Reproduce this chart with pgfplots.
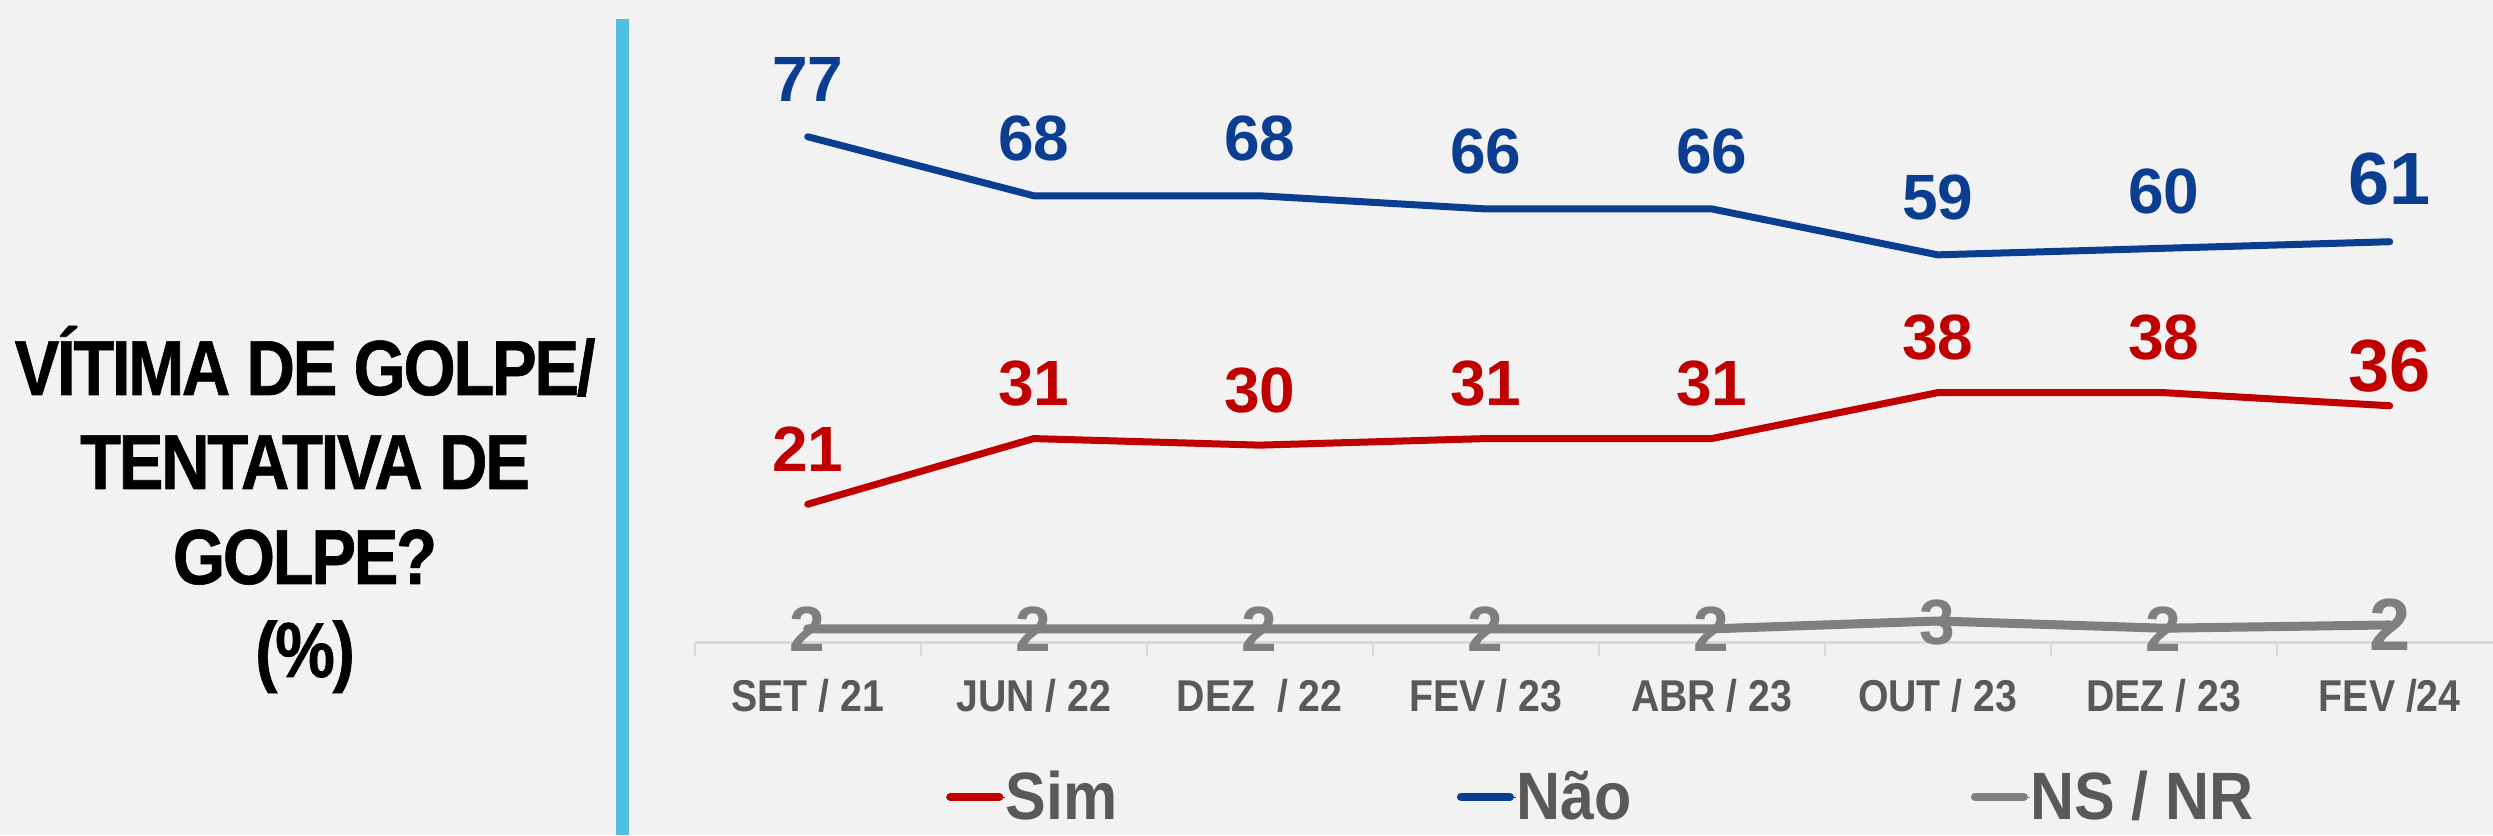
\documentclass[border=0pt]{standalone}
\usepackage{fontspec}
\usepackage{pgfplots}
\usepackage{pgfplotstable}
\pgfplotsset{compat=1.18}
\setmainfont{Liberation Sans}
\newfontfamily\nb{Liberation Sans}[FakeStretch=0.88]
\newfontfamily\lb{Liberation Sans}[FakeStretch=0.91]
\newfontfamily\tb{Liberation Sans}[FakeStretch=0.86, LetterSpace=-3, FakeBold=0.8]
\definecolor{bg}{HTML}{F2F2F2}
\definecolor{naoblue}{HTML}{0B3D91}
\definecolor{simred}{HTML}{C00000}
\definecolor{nsgray}{HTML}{7F7F7F}
\definecolor{tickgray}{HTML}{595959}
\definecolor{axisgray}{HTML}{D9D9D9}
\definecolor{cyanbar}{HTML}{4FBEE0}
\pgfplotstableread{
x sim nao ns nsl
0 21 77 2.0 2
1 31 68 2.0 2
2 30 68 2.0 2
3 31 66 2.0 2
4 31 66 2.0 2
5 38 59 3.2 3
6 38 60 2.1 2
7 36 61 2.6 2
}\data
\begin{document}
\begin{tikzpicture}
\fill[bg] (0,0) rectangle (1246.5pt,417.5pt);
\fill[cyanbar] (307.75pt,0pt) rectangle (314.3pt,408pt);
\begin{scope}[every node/.style={anchor=base, inner sep=0pt, font=\tb\bfseries\fontsize{39}{47}\selectfont, text=black}]
\node at (152.5pt,220pt) {VÍTIMA DE GOLPE/};
\node at (152.5pt,173pt) {TENTATIVA DE};
\node at (152.5pt,125.5pt) {GOLPE?};
\node at (152.5pt,79pt) {(\%)};
\end{scope}
\begin{axis}[
  at={(347.35pt,96.5pt)}, anchor=south west,
  scale only axis, width=899.15pt, height=321pt,
  xmin=-0.5, xmax=7.457, ymin=0, ymax=97.84,
  clip=false,
  axis x line*=bottom, axis y line=none,
  axis line style={draw=axisgray, line width=1.5pt},
  xtick={0,...,7},
  xticklabels={SET / 21, JUN / 22, DEZ~ / 22, FEV / 23, ABR / 23, OUT / 23, DEZ / 23, FEV /24},
  major tick length=0pt,
  xticklabel style={font=\nb\bfseries\fontsize{22.3}{26}\selectfont, text=tickgray, anchor=base, yshift=-34.5pt},
  extra x ticks={-0.5,0.5,...,6.5},
  extra x tick labels={},
  extra x tick style={tick align=outside, major tick length=7pt, tick style={draw=axisgray, line width=1pt}},
  ytick=\empty,
  legend columns=3,
  legend cell align=left,
  legend style={at={(axis description cs:0.1397,-0.2414)}, anchor=west, draw=none, fill=none, inner sep=0pt, outer sep=0pt,
    font=\lb\bfseries\fontsize{33.5}{40}\selectfont, text=tickgray,
    /tikz/every even column/.append style={column sep=169.5pt}, nodes={inner sep=0pt}},
  legend image code/.code={\draw[#1, line cap=round, line width=4pt] (2pt,0pt) -- (26.5pt,0pt); \path (0pt,0pt) -- (29.5pt,0pt);},
]
\addlegendimage{simred}\addlegendentry{Sim}
\addlegendimage{naoblue}\addlegendentry{Não}
\addlegendimage{nsgray}\addlegendentry{NS / NR}
% lines
\addplot[forget plot, nsgray, line width=4.5pt, line cap=round, line join=round, mark=none] table[x=x,y=ns]{\data};
\addplot[forget plot, simred, line width=3.5pt, line cap=round, line join=round, mark=none] table[x=x,y=sim]{\data};
\addplot[forget plot, naoblue, line width=3.5pt, line cap=round, line join=round, mark=none] table[x=x,y=nao]{\data};
% labels
\addplot[forget plot, draw=none, mark=none, point meta=explicit symbolic, nodes near coords,
  nodes near coords style={anchor=center, yshift=0pt, text=nsgray, font=\bfseries\fontsize{32}{36}\selectfont},
  skip coords between index={7}{8}] table[x=x,y=nsl,meta=nsl]{\data};
\addplot[forget plot, draw=none, mark=none, point meta=explicit symbolic, nodes near coords,
  nodes near coords style={anchor=center, yshift=0pt, text=nsgray, font=\bfseries\fontsize{37}{40}\selectfont},
  skip coords between index={0}{7}] table[x=x,y=ns,meta=nsl]{\data};
\addplot[forget plot, draw=none, mark=none, point meta=explicit symbolic, nodes near coords,
  nodes near coords style={anchor=center, yshift=27.5pt, text=simred, font=\bfseries\fontsize{32}{36}\selectfont},
  skip coords between index={7}{8}] table[x=x,y=sim,meta=sim]{\data};
\addplot[forget plot, draw=none, mark=none, point meta=explicit symbolic, nodes near coords,
  nodes near coords style={anchor=center, yshift=20pt, text=simred, font=\bfseries\fontsize{37}{40}\selectfont},
  skip coords between index={0}{7}] table[x=x,y=sim,meta=sim]{\data};
\addplot[forget plot, draw=none, mark=none, point meta=explicit symbolic, nodes near coords,
  nodes near coords style={anchor=center, yshift=28.5pt, text=naoblue, font=\bfseries\fontsize{32}{36}\selectfont},
  skip coords between index={7}{8}] table[x=x,y=nao,meta=nao]{\data};
\addplot[forget plot, draw=none, mark=none, point meta=explicit symbolic, nodes near coords,
  nodes near coords style={anchor=center, yshift=31.5pt, text=naoblue, font=\bfseries\fontsize{37}{40}\selectfont},
  skip coords between index={0}{7}] table[x=x,y=nao,meta=nao]{\data};
\end{axis}
\pgfresetboundingbox
\path[use as bounding box] (0,0) rectangle (1246.5pt,417.5pt);
\end{tikzpicture}
\end{document}
